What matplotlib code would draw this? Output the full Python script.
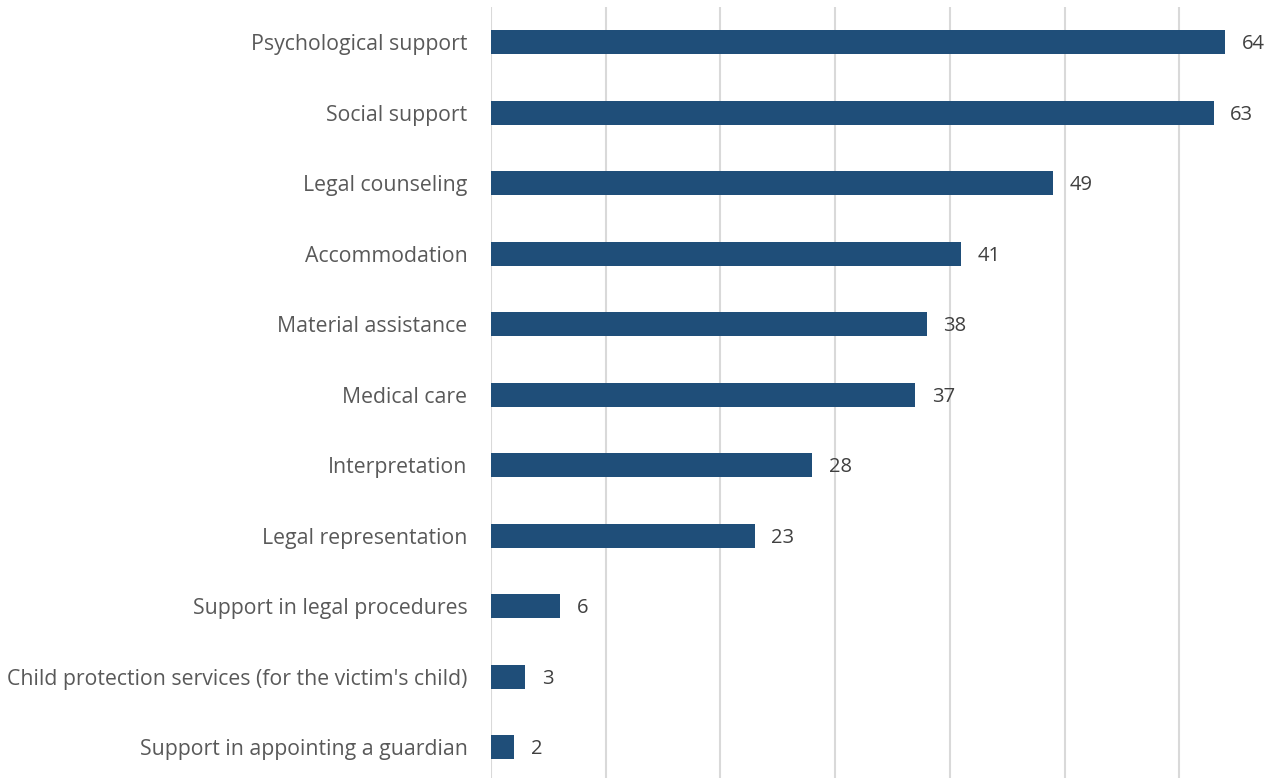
import matplotlib.pyplot as plt

# support services offered, in the order shown top to bottom
services = [
    "Psychological support",
    "Social support",
    "Legal counseling",
    "Accommodation",
    "Material assistance",
    "Medical care",
    "Interpretation",
    "Legal representation",
    "Support in legal procedures",
    "Child protection services (for the victim's child)",
    "Support in appointing a guardian",
]
counts = [64, 63, 49, 41, 38, 37, 28, 23, 6, 3, 2]
grid_ticks = [0, 10, 20, 30, 40, 50, 60]

plt.rcParams['font.family'] = ['Open Sans', 'DejaVu Sans']

fig = plt.figure(figsize=(12.77, 7.78), dpi=100)
ax = fig.add_axes([491 / 1277, -4.5 / 778, 780 / 1277, 775.5 / 778])

ypos = list(range(len(services)))
ax.barh(ypos, counts, height=0.34, color='#1F4E79', zorder=3)

for y, v in zip(ypos, counts):
    ax.text(v + 1.45, y + 0.03, str(v), va='center', ha='left',
            fontsize=14.5, color='#404040')

ax.set_yticks(ypos)
ax.set_yticklabels(services, fontsize=15.3, color='#595959')
ax.set_ylim(len(services) - 0.5, -0.5)
ax.set_xlim(0, 68)
ax.set_xticks(grid_ticks)
ax.tick_params(axis='x', which='both', length=0, labelbottom=False)
ax.tick_params(axis='y', length=0, pad=17)
ax.grid(axis='x', color='#D9D9D9', linewidth=1.5, zorder=0)
for side in ['top', 'right', 'bottom', 'left']:
    ax.spines[side].set_visible(False)

plt.savefig("out.png", dpi=100)
